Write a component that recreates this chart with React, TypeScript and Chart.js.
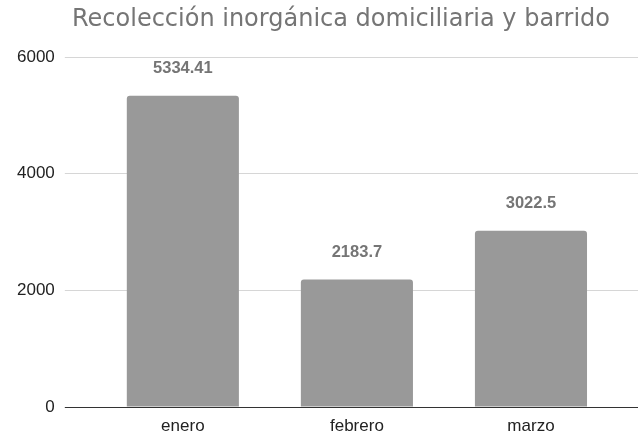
import React, { useEffect, useRef } from "react";
import { Chart, registerables } from "chart.js";

Chart.register(...registerables);

const TITLE = "Recolección inorgánica domiciliaria y barrido";
const categories = ["enero", "febrero", "marzo"];
const values = [5334.41, 2183.7, 3022.5];
const yTicks = [0, 2000, 4000, 6000];

const FONT = "'Liberation Sans', Arial, sans-serif";

const titlePlugin = {
  id: "customTitle",
  afterDraw(chart: any) {
    const ctx = chart.ctx;
    ctx.save();
    ctx.font = "24px 'DejaVu Sans'";
    ctx.fillStyle = "#757575";
    ctx.textAlign = "center";
    ctx.textBaseline = "alphabetic";
    ctx.fillText(TITLE, 341, 26);
    ctx.restore();
  },
};

const valueLabels = {
  id: "valueLabels",
  afterDatasetsDraw(chart: any) {
    const ctx = chart.ctx;
    const meta = chart.getDatasetMeta(0);
    ctx.save();
    ctx.font = "bold 16.5px " + FONT;
    ctx.fillStyle = "#757575";
    ctx.textAlign = "center";
    ctx.textBaseline = "middle";
    meta.data.forEach((bar: any, i: number) => {
      ctx.fillText(String(values[i]), bar.x, bar.y - 27);
    });
    ctx.restore();
  },
};

export default function App() {
  const ref = useRef<HTMLCanvasElement>(null);
  useEffect(() => {
    if (!ref.current) return;
    const gridColor = (c: any) => (c.tick && c.tick.value === 0 ? "#333333" : "#d6d6d6");
    const chart = new Chart(ref.current, {
      type: "bar",
      data: {
        labels: categories,
        datasets: [
          {
            data: values,
            backgroundColor: "#999999",
            borderRadius: 3,
            borderSkipped: "start",
            categoryPercentage: 1,
            barPercentage: 0.644,
          },
        ],
      },
      options: {
        animation: false,
        responsive: true,
        maintainAspectRatio: false,
        layout: { padding: { top: 57, left: 7, right: 0, bottom: 0 } },
        plugins: {
          legend: { display: false },
          title: { display: false },
          tooltip: { enabled: false },
        },
        scales: {
          x: {
            grid: { display: false, drawTicks: false },
            border: { display: false },
            afterFit: (s: any) => {
              s.height = 29;
            },
            ticks: {
              padding: 9,
              color: "#222222",
              font: { family: FONT, size: 17 },
            },
          },
          y: {
            min: 0,
            max: 6000,
            afterBuildTicks: (s: any) => {
              s.ticks = yTicks.map((v) => ({ value: v }));
            },
            grid: {
              color: gridColor,
              tickColor: gridColor,
              drawTicks: true,
              tickLength: 31,
            },
            border: { display: false },
            ticks: {
              padding: 10,
              color: "#222222",
              font: { family: FONT, size: 17 },
              callback: (v: any) => String(v),
            },
          },
          y2: {
            position: "right",
            min: 0,
            max: 6000,
            afterBuildTicks: (s: any) => {
              s.ticks = yTicks.map((v) => ({ value: v }));
            },
            grid: {
              drawOnChartArea: false,
              drawTicks: true,
              tickLength: 20,
              tickColor: gridColor,
            },
            border: { display: false },
            ticks: { display: false },
          },
        },
      },
      plugins: [titlePlugin, valueLabels],
    });
    return () => chart.destroy();
  }, []);
  return (
    <div style={{ position: "fixed", left: 0, top: 0, width: 638, height: 436, background: "#fff" }}>
      <canvas ref={ref} />
    </div>
  );
}
